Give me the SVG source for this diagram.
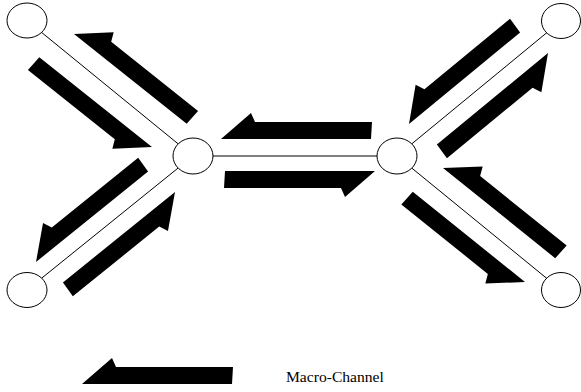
<svg xmlns="http://www.w3.org/2000/svg" width="581" height="392" viewBox="0 0 581 392">
  <style>
    .link { stroke: #000; stroke-width: 1; fill: none; }
    .node { fill: #fff; stroke: #000; stroke-width: 1; }
    .flow { fill: #000; }
    .label { font-family: "Liberation Serif", "Times New Roman", serif; font-size: 15.6px; fill: #000; }
  </style>
  <defs>
    <!-- half-barbed channel arrow, tip at origin, body running along +x -->
    <polygon id="chan" points="0,0 30,-26 34,-17 151,-17 150,0"/>
    <polygon id="chanD" points="0,0 30,-26 34,-17 145,-17 144,0"/>
  </defs>
  <rect width="581" height="392" fill="#fff"/>

  <g id="connectors">
    <line class="link" x1="27" y1="20.5" x2="193" y2="156"/>
    <line class="link" x1="27" y1="290" x2="193" y2="156"/>
    <line class="link" x1="193" y1="156" x2="397" y2="156"/>
    <line class="link" x1="397" y1="156" x2="561" y2="21"/>
    <line class="link" x1="397" y1="156" x2="561" y2="290"/>
  </g>

  <g id="flows" class="flow">
    <use href="#chanD" transform="translate(74,34) rotate(38.5)"/>
    <use href="#chanD" transform="translate(152,147) rotate(218.5)"/>
    <use href="#chan" transform="translate(221,139)"/>
    <use href="#chan" transform="translate(375,171) rotate(180)"/>
    <use href="#chanD" transform="translate(409,124) rotate(-39.5)"/>
    <use href="#chanD" transform="translate(548,53) rotate(140.5)"/>
    <use href="#chanD" transform="translate(36,262) rotate(-38.9)"/>
    <use href="#chanD" transform="translate(175,192) rotate(141.1)"/>
    <use href="#chanD" transform="translate(443,168) rotate(38.8)"/>
    <use href="#chanD" transform="translate(525,282) rotate(218.8)"/>
  </g>

  <g id="node-tl"><ellipse class="node" cx="27" cy="20.5" rx="20" ry="17.5"/></g>
  <g id="node-bl"><ellipse class="node" cx="27" cy="290" rx="20" ry="17.5"/></g>
  <g id="node-cl"><ellipse class="node" cx="193" cy="156" rx="20" ry="18"/></g>
  <g id="node-cr"><ellipse class="node" cx="397" cy="156" rx="20" ry="18"/></g>
  <g id="node-tr"><ellipse class="node" cx="561" cy="21" rx="19.5" ry="17.5"/></g>
  <g id="node-br"><ellipse class="node" cx="561" cy="290" rx="19.5" ry="17.5"/></g>

  <g id="legend">
    <use href="#chan" class="flow" transform="translate(82,384)"/>
    <text class="label" x="286" y="382">Macro-Channel</text>
  </g>
</svg>
